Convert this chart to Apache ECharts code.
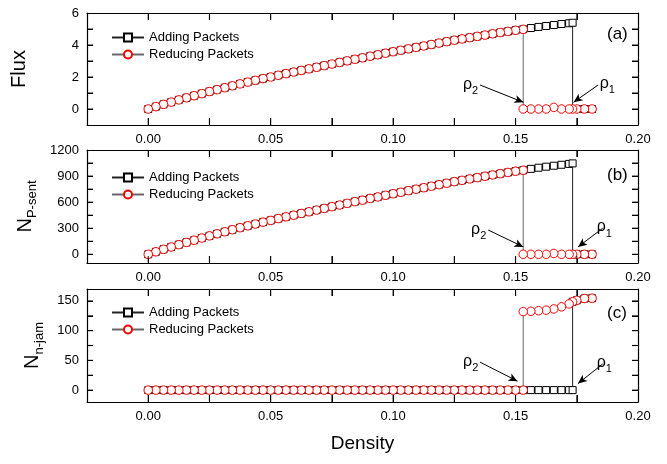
<!DOCTYPE html>
<html>
<head>
<meta charset="utf-8">
<script src="https://cdn.jsdelivr.net/npm/echarts@6/dist/echarts.min.js"></script>
<style>
  html, body { margin: 0; padding: 0; background: #fff; }
  #chart { width: 667px; height: 464px; }
</style>
</head>
<body>
<div id="chart"></div>
<script>
// density grid: 0 .. 0.171875 in steps of 1/320, plus the transition point and the tail
const density = [0, 0.003125, 0.00625, 0.009375, 0.0125, 0.015625, 0.01875, 0.021875, 0.025, 0.028125,
  0.03125, 0.034375, 0.0375, 0.040625, 0.04375, 0.046875, 0.05, 0.053125, 0.05625, 0.059375,
  0.0625, 0.065625, 0.06875, 0.071875, 0.075, 0.078125, 0.08125, 0.084375, 0.0875, 0.090625,
  0.09375, 0.096875, 0.1, 0.103125, 0.10625, 0.109375, 0.1125, 0.115625, 0.11875, 0.121875,
  0.125, 0.128125, 0.13125, 0.134375, 0.1375, 0.140625, 0.14375, 0.146875, 0.15, 0.153125,
  0.15625, 0.159375, 0.1625, 0.165625, 0.16875, 0.171875, 0.1733, 0.175, 0.178125, 0.18125]

// main branch: density[0..56]   tail branch: density[49..59]
const fluxMain = [0.00, 0.15, 0.29, 0.43, 0.57, 0.70, 0.83, 0.96, 1.09, 1.21,
  1.33, 1.45, 1.57, 1.68, 1.79, 1.90, 2.00, 2.11, 2.21, 2.31,
  2.41, 2.51, 2.61, 2.71, 2.81, 2.91, 3.01, 3.11, 3.20, 3.30,
  3.39, 3.49, 3.58, 3.67, 3.76, 3.85, 3.94, 4.03, 4.12, 4.21,
  4.30, 4.38, 4.46, 4.54, 4.62, 4.70, 4.78, 4.85, 4.92, 4.98,
  5.06, 5.13, 5.19, 5.25, 5.31, 5.36, 5.39]
const fluxTail = [0, 0, 0, 0, 0.1, 0, 0, 0, 0, 0, 0]

const sentMain = [0, 29, 57, 84, 111, 137, 162, 187, 212, 236,
  259, 283, 306, 328, 349, 370, 390, 411, 431, 450,
  470, 489, 509, 528, 548, 567, 586, 606, 623, 643,
  660, 679, 697, 714, 732, 749, 766, 784, 801, 818,
  836, 851, 867, 882, 898, 913, 928, 942, 956, 967,
  983, 996, 1008, 1019, 1030, 1040, 1046]
const sentTail = [0, 0, 0, 0, 10, 0, 0, 0, 0, 0, 0]

const jamMain = [0, 0, 0, 0, 0, 0, 0, 0, 0, 0,
  0, 0, 0, 0, 0, 0, 0, 0, 0, 0,
  0, 0, 0, 0, 0, 0, 0, 0, 0, 0,
  0, 0, 0, 0, 0, 0, 0, 0, 0, 0,
  0, 0, 0, 0, 0, 0, 0, 0, 0, 0,
  0, 0, 0, 0, 0, 0, 0]
const jamTail = [132, 132.5, 133.5, 134.5, 136.5, 140, 145, 148.5, 151, 154, 154.5]

const xTicks = [0, 0.025, 0.05, 0.075, 0.1, 0.125, 0.15, 0.175]
const xLabels = [0, 0.05, 0.1, 0.15, 0.2]
const fluxTicks = [0, 1, 2, 3, 4, 5]
const fluxLabels = [0, 2, 4, 6]
const sentTicks = [0, 150, 300, 450, 600, 750, 900, 1050]
const sentLabels = [0, 300, 600, 900, 1200]
const jamTicks = [0, 25, 50, 75, 100, 125, 150]
const jamLabels = [0, 50, 100, 150]

// arrow annotations [startX, startY, endX, endY] per panel
const rho2Arrows = [[0.1355, 1.5, 0.1532, 0.42], [0.1388, 280, 0.1532, 85], [0.1355, 47, 0.1508, 15]]
const rho1Arrows = [[0.1837, 1.5, 0.1737, 0.42], [0.1856, 300, 0.1755, 85], [0.1856, 44, 0.1755, 11]]

const FONT = 'Liberation Sans, Arial, sans-serif'
const X_MIN = -0.025
const X_MAX = 0.2

const addingData = (main, tail) => {
    const pts = main.map((v, i) => [density[i], v])
    for (let k = 7; k < tail.length; k++) pts.push([density[49 + k], tail[k]])
    return pts
}
const reducingData = (main, tail) => {
    const pts = []
    for (let k = tail.length - 1; k >= 0; k--) pts.push([density[49 + k], tail[k]])
    for (let i = 49; i >= 0; i--) pts.push([density[i], main[i]])
    return pts
}

const grids = [
    { left: 87, right: 29, top: 13, height: 112 },
    { left: 87, right: 29, top: 150, height: 113 },
    { left: 87, right: 29, top: 289, height: 113 }
]

const makeAxisLine = () => ({ show: true, onZero: false, lineStyle: { color: '#000', width: 1.2 } })
const makeTick = (vals, len) => ({
    show: true, inside: true, length: len,
    customValues: vals.map(v => (v === 0 ? 1e-9 : v))
})

const xAxis = []
grids.forEach((g, gi) => {
    xAxis.push({
        type: 'value', gridIndex: gi, min: X_MIN, max: X_MAX, position: 'bottom',
        axisLine: makeAxisLine(),
        splitLine: { show: false },
        axisTick: makeTick(xTicks, 7),
        axisLabel: {
            customValues: xLabels.slice(), margin: 8, color: '#000', fontSize: 13, fontFamily: FONT,
            formatter: v => Number(v).toFixed(2)
        },
        name: gi === 2 ? 'Density' : '',
        nameLocation: 'middle', nameGap: 32,
        nameTextStyle: { fontSize: 19, fontFamily: FONT, color: '#000' }
    })
    xAxis.push({
        type: 'value', gridIndex: gi, min: X_MIN, max: X_MAX, position: 'top',
        axisLine: makeAxisLine(),
        splitLine: { show: false },
        axisTick: makeTick(xTicks, 7),
        axisLabel: { show: false }
    })
})

const yDefs = [
    { min: -1, max: 6, ticks: fluxTicks, labels: fluxLabels, name: '{n|Flux}', gap: 58 },
    { min: -100, max: 1200, ticks: sentTicks, labels: sentLabels, name: '{n|N}{s|P-sent}', gap: 40 },
    { min: -20, max: 170, ticks: jamTicks, labels: jamLabels, name: '{n|N}{s|n-jam}', gap: 33 }
]
const yAxis = []
yDefs.forEach((d, gi) => {
    yAxis.push({
        type: 'value', gridIndex: gi, min: d.min, max: d.max, position: 'left',
        axisLine: makeAxisLine(),
        splitLine: { show: false },
        axisTick: makeTick(d.ticks, 6),
        axisLabel: {
            customValues: d.labels.slice(), margin: 8, color: '#000', fontSize: 13, fontFamily: FONT,
            formatter: v => String(v)
        },
        name: d.name, nameLocation: 'middle', nameGap: d.gap, nameRotate: 90,
        nameTextStyle: {
            fontFamily: FONT, color: '#000',
            rich: {
                n: { fontSize: 20, lineHeight: 20, fontFamily: FONT, color: '#000', verticalAlign: 'top' },
                s: { fontSize: 13, lineHeight: 13, fontFamily: FONT, color: '#000', verticalAlign: 'top', padding: [11, 0, 0, 0] }
            }
        }
    })
    yAxis.push({
        type: 'value', gridIndex: gi, min: d.min, max: d.max, position: 'right',
        axisLine: makeAxisLine(),
        splitLine: { show: false },
        axisTick: makeTick(d.ticks, 6),
        axisLabel: { show: false }
    })
})

const rhoLabel = (txt) => ({
    show: true, position: 'start', distance: 2,
    formatter: '{r|ρ}{s|' + txt + '}',
    rich: {
        r: { fontSize: 16, lineHeight: 16, fontFamily: FONT, color: '#000', verticalAlign: 'top' },
        s: { fontSize: 11, lineHeight: 11, fontFamily: FONT, color: '#000', verticalAlign: 'top', padding: [9, 0, 0, 0] }
    }
})
const arrowLine = (a, txt) => [
    { coord: [a[0], a[1]], symbol: 'none', label: rhoLabel(txt) },
    { coord: [a[2], a[3]], symbol: 'arrow', symbolSize: [6, 9] }
]

// inward tick marks on the frame, placed through the axis scales
const tickSeries = (gi, data, size, offset) => ({
    type: 'scatter', xAxisIndex: gi * 2, yAxisIndex: gi * 2,
    silent: true, clip: false, z: 5,
    symbol: 'rect', symbolSize: size, symbolOffset: offset,
    itemStyle: { color: '#000' },
    data: data
})

const panels = [[fluxMain, fluxTail], [sentMain, sentTail], [jamMain, jamTail]]
const series = []
panels.forEach((p, gi) => {
    series.push({
        name: 'Adding Packets', type: 'line',
        xAxisIndex: gi * 2, yAxisIndex: gi * 2,
        data: addingData(p[0], p[1]),
        symbol: 'rect', symbolSize: 7,
        itemStyle: { color: '#fff', borderColor: '#000', borderWidth: 1 },
        lineStyle: { color: '#222', width: 1 },
        markLine: {
            silent: true, animation: false,
            lineStyle: { color: '#000', width: 1, type: 'solid' },
            data: [arrowLine(rho2Arrows[gi], '2'), arrowLine(rho1Arrows[gi], '1')]
        }
    })
    series.push({
        name: 'Reducing Packets', type: 'line',
        xAxisIndex: gi * 2, yAxisIndex: gi * 2,
        data: reducingData(p[0], p[1]),
        symbol: 'circle', symbolSize: 8.5,
        itemStyle: { color: '#fff', borderColor: '#ff0000', borderWidth: 1 },
        lineStyle: { color: '#666', width: 1 }
    })
    const d = yDefs[gi]
    series.push(tickSeries(gi, xTicks.map(v => [v, d.min]), [1.2, 7], [0, -3.5]))
    series.push(tickSeries(gi, xTicks.map(v => [v, d.max]), [1.2, 7], [0, 3.5]))
    series.push(tickSeries(gi, d.ticks.map(v => [X_MIN, v]), [6, 1.2], [3, 0]))
    series.push(tickSeries(gi, d.ticks.map(v => [X_MAX, v]), [6, 1.2], [-3, 0]))
})

const legendTops = [26, 166, 301]
const legend = legendTops.map(t => ({
    left: 106, top: t, orient: 'vertical', itemWidth: 32, itemHeight: 10, itemGap: 4,
    textStyle: { fontSize: 13, fontFamily: FONT, color: '#000' },
    data: ['Adding Packets', 'Reducing Packets']
}))

const panelTitles = [['(a)', 26], ['(b)', 167], ['(c)', 305]].map(t => ({
    text: t[0], left: 607, top: t[1], padding: 0,
    textStyle: { fontSize: 17, fontWeight: 'normal', fontFamily: FONT, color: '#000' }
}))

const chart = echarts.init(document.getElementById('chart'))
chart.setOption({
    animation: false,
    backgroundColor: '#fff',
    title: panelTitles,
    legend: legend,
    grid: grids,
    xAxis: xAxis,
    yAxis: yAxis,
    series: series
})
</script>
</body>
</html>
